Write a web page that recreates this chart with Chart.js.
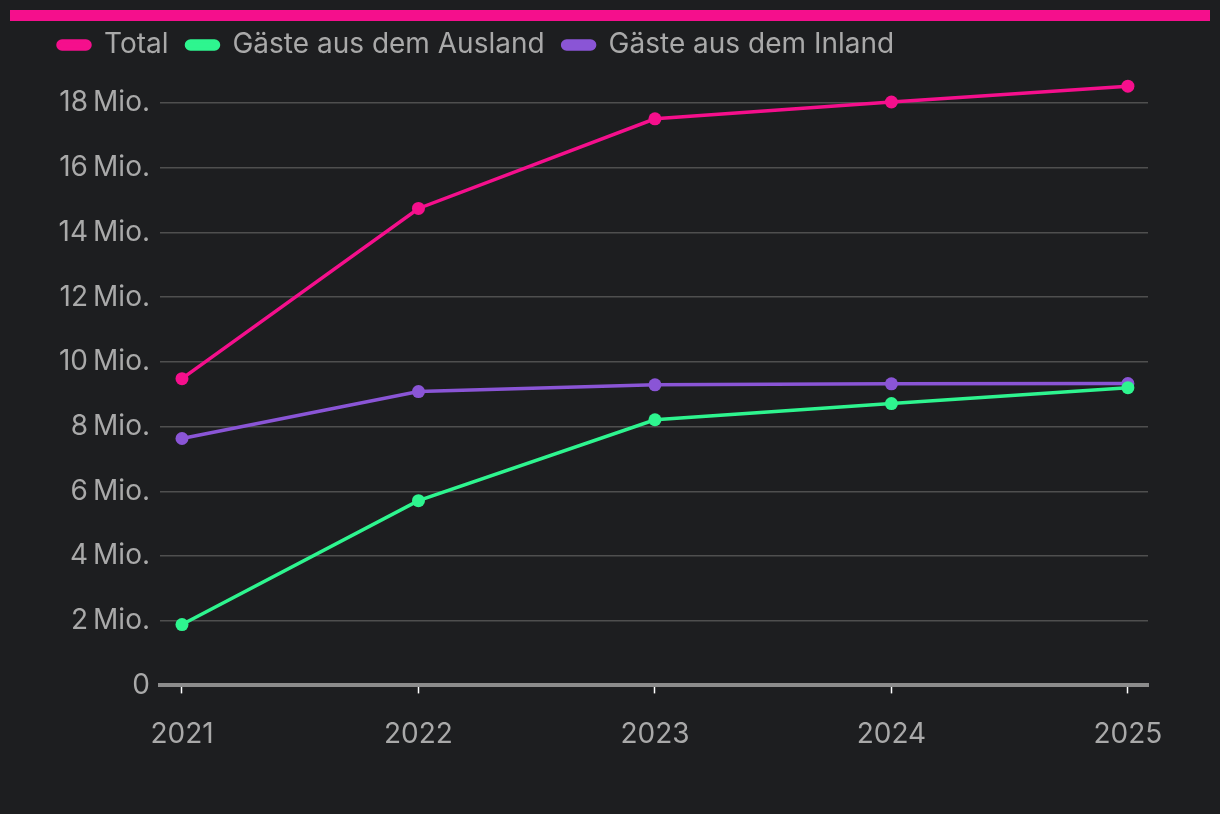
<!DOCTYPE html>
<html>
<head>
<meta charset="utf-8">
<script src="https://cdn.jsdelivr.net/npm/chart.js@4"></script>
<style>
html, body { margin: 0; padding: 0; background: #1d1e20; }
#bar { position: absolute; left: 10px; top: 10px; width: 1200px; height: 11px; background: #f50f8c; }
#wrap { position: absolute; left: 0; top: 0; width: 1220px; height: 814px; }
</style>
</head>
<body>
<div id="wrap"><canvas id="chart"></canvas></div>
<div id="bar"></div>
<script>
const years = [2021, 2022, 2023, 2024, 2025];
const seriesNames = ["Total", "Gäste aus dem Ausland", "Gäste aus dem Inland"];
const total = [9.48, 14.74, 17.51, 18.03, 18.52];
const ausland = [1.88, 5.71, 8.21, 8.71, 9.20];
const inland = [7.63, 9.08, 9.29, 9.32, 9.33];
const colors = ["#f50f8c", "#2ef58f", "#8a55d6"];

const textColor = "#a9a9a9";
const font = "Inter";

function points(values){
    return values.map((v, i) => ({ x: years[i], y: v }));
}

function makeSet(label, values, color){
    return {
        label: label,
        data: points(values),
        borderColor: color,
        backgroundColor: color,
        borderWidth: 3.5,
        pointRadius: 6.5,
        pointHoverRadius: 6.5,
        pointBorderWidth: 0,
        tension: 0
    };
}

const ctx = document.getElementById("chart").getContext("2d");

new Chart(ctx, {
    type: "line",
    data: {
        datasets: [
            makeSet(seriesNames[0], total, colors[0]),
            makeSet(seriesNames[1], ausland, colors[1]),
            makeSet(seriesNames[2], inland, colors[2])
        ]
    },
    options: {
        responsive: true,
        maintainAspectRatio: false,
        animation: false,
        layout: { padding: { top: 13, right: 72, bottom: 39, left: 40 } },
        plugins: {
            tooltip: { enabled: false },
            legend: {
                position: "top",
                align: "start",
                labels: {
                    color: textColor,
                    font: { family: font, size: 28 },
                    boxWidth: 32,
                    boxHeight: 8,
                    useBorderRadius: true,
                    borderRadius: 4,
                    padding: 18
                }
            }
        },
        scales: {
            x: {
                type: "linear",
                min: 2020.907,
                max: 2025.085,
                afterBuildTicks: axis => { axis.ticks = years.map(v => ({ value: v })); },
                grid: {
                    drawOnChartArea: false,
                    tickLength: 8,
                    tickColor: "#ffffff",
                    tickWidth: 1.5
                },
                border: { color: "#8c8c8c", width: 4 },
                ticks: {
                    color: textColor,
                    font: { family: font, size: 28 },
                    padding: 24,
                    maxRotation: 0,
                    callback: v => String(v)
                }
            },
            y: {
                min: 0,
                max: 19.05,
                ticks: {
                    stepSize: 2,
                    includeBounds: false,
                    color: textColor,
                    font: { family: font, size: 28 },
                    padding: 10,
                    callback: v => v === 0 ? "0" : v + "\u2009Mio."
                },
                afterFit: axis => { axis.width = 120; },
                grid: { color: "#4f4f4f", lineWidth: 1.5, drawTicks: false },
                border: { display: false }
            }
        }
    }
});
</script>
</body>
</html>
